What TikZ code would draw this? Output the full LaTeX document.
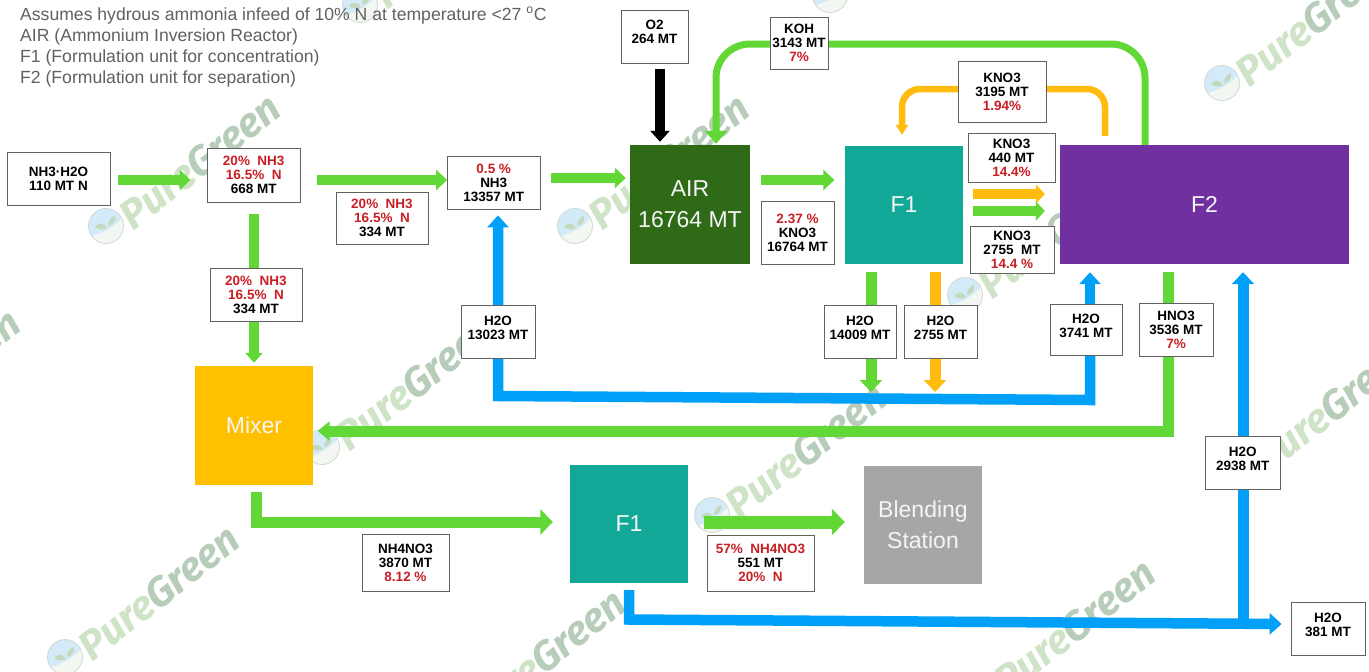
\documentclass[tikz,border=0pt]{standalone}
\usepackage{fontspec}
\setmainfont{Liberation Sans}
\newfontfamily\wmfont{Fira Sans}
\usetikzlibrary{arrows.meta,calc}
\pgfdeclarelayer{wmark}
\pgfdeclarelayer{conn}
\pgfsetlayers{wmark,conn,main}
\definecolor{cgreen}{HTML}{62D836}
\definecolor{cblue}{HTML}{00A0F8}
\definecolor{cyellow}{HTML}{FFBC0D}
\definecolor{cred}{HTML}{C81E24}
\definecolor{cair}{HTML}{2F6B17}
\definecolor{cteal}{HTML}{12A898}
\definecolor{cpurple}{HTML}{7030A0}
\definecolor{cmixer}{HTML}{FFC000}
\definecolor{cblend}{HTML}{A6A6A6}
\definecolor{wmpure}{HTML}{CFE3C6}
\definecolor{wmgreen}{HTML}{B7CDB9}
\definecolor{wmsky}{HTML}{D3EAF8}
\definecolor{wmleaf}{HTML}{C4D8BC}
\definecolor{wmring}{HTML}{D2DAD2}
\newcommand{\rd}[1]{\textcolor{cred}{#1}}
\newcommand{\lsp}[1]{\fontsize{13.5}{#1}\selectfont}
\newcommand{\tailpad}[1]{\\[#1]\mbox{}}
% label box: name, x1, y1, x2, y2, text
\newcommand{\lbox}[6]{%
  \pgfmathsetmacro{\bw}{#4-#2}\pgfmathsetmacro{\bh}{#5-#3}%
  \node[labelbox,minimum width=\bw pt,minimum height=\bh pt] (#1) at ({(#2+#4)/2},{(#3+#5)/2}) {#6};}
% process block: name, x1, y1, x2, y2, colour, text
\newcommand{\pblock}[7]{%
  \pgfmathsetmacro{\bw}{#4-#2}\pgfmathsetmacro{\bh}{#5-#3}%
  \node[procblock,fill=#6,minimum width=\bw pt,minimum height=\bh pt] (#1) at ({(#2+#4)/2},{(#3+#5)/2}) {#7};}
% watermark at logo centre
\newcommand{\wmark}[2]{%
  \begin{scope}[shift={(#1,#2)}]
    \fill[wmsky] (0,0) circle[radius=17.5];
    \begin{scope}
      \clip (0,0) circle[radius=17.5];
      \fill[white!80!wmleaf] (-20,12) .. controls (-4,8) and (8,2) .. (20,-12) -- (20,20) -- (-20,20) -- cycle;
    \end{scope}
    \draw[wmring,line width=.8] (0,0) circle[radius=17.5];
    \fill[wmleaf] (-11,1) .. controls (-7,-4) and (-2,-3) .. (1,2) .. controls (-3,4) and (-8,4) .. (-11,1) -- cycle;
    \fill[wmleaf] (2,0) .. controls (2,-6) and (6,-9) .. (9,-10) .. controls (10,-5) and (7,-1) .. (2,0) -- cycle;
    \node[anchor=west,rotate=38,inner sep=0,font=\wmfont\bfseries\itshape\fontsize{41}{41}\selectfont] (w#1x#2) at (19,-6)
      {\textcolor{wmpure}{Pure}\textcolor{wmgreen}{Green}};
  \end{scope}}
\tikzset{
  x=1pt,y=-1pt,
  labelbox/.style={draw=black!62,line width=.8pt,fill=white,inner sep=0pt,align=center,text=black,
     font=\bfseries\fontsize{13.5}{14}\selectfont},
  procblock/.style={draw=none,inner sep=0pt,align=center,text=white!92!gray,font=\fontsize{23}{31}\selectfont},
  flow/.style={line cap=butt,line join=miter},
  gflow/.style={flow,draw=cgreen,line width=10pt,-{Triangle[length=11pt,width=20pt]}},
  bflow/.style={flow,draw=cblue,line width=10.5pt,-{Triangle[length=12pt,width=21pt]}},
  yflow/.style={flow,draw=cyellow,line width=10.5pt,-{Triangle[length=11pt,width=21pt]}},
}
\begin{document}
\begin{tikzpicture}
\useasboundingbox (0,0) rectangle (1369,672);

\begin{pgfonlayer}{wmark}
\fill[white] (0,0) rectangle (1369,672);
\clip (0,0) rectangle (1369,672);
\wmark{106}{226}\wmark{360}{5}\wmark{575}{226}\wmark{830}{-5}\wmark{1222}{83}
\wmark{-154}{441}\wmark{322}{447}\wmark{965}{295}\wmark{712}{515}\wmark{1240}{470}
\wmark{65}{657}\wmark{451}{721}\wmark{981}{691}
\end{pgfonlayer}

% header notes
\node[anchor=north west,inner sep=0,align=left,text=black!62,font=\fontsize{17.6}{21.2}\selectfont] (notes) at (20,7)
 {Assumes hydrous ammonia infeed of 10\% N at temperature <27 \textsuperscript{o}C\\
  AIR (Ammonium Inversion Reactor)\\
  F1 (Formulation unit for concentration)\\
  F2 (Formulation unit for separation)};

% process blocks
\pblock{air}{630}{145}{750}{264}{cair}{AIR\\16764 MT}
\pblock{fone}{845}{146}{963}{264}{cteal}{F1}
\pblock{ftwo}{1060}{145}{1349}{264}{cpurple}{F2}
\pblock{mixer}{195}{366}{313}{485}{cmixer}{Mixer}
\pblock{fonelow}{570}{465}{688}{583}{cteal}{F1}
\pblock{blend}{864}{466}{982}{584}{cblend}{Blending\\Station}

% labels
\lbox{feed}{7}{152}{110}{205}{\lsp{14}NH3·H2O\\110 MT N}
\lbox{mixa}{207.5}{148}{300}{202}{\lsp{13.2}\rd{20\%\ \ NH3}\\\rd{16.5\%\ \ N}\\668 MT}
\lbox{splitr}{336}{192}{428}{244}{\lsp{13.2}\rd{20\%\ \ NH3}\\\rd{16.5\%\ \ N}\\334 MT}
\lbox{splitd}{210}{268}{302}{321}{\lsp{13.2}\rd{20\%\ \ NH3}\\\rd{16.5\%\ \ N}\\334 MT}
\lbox{nhthree}{447.5}{156}{540}{209}{\lsp{13.2}\rd{0.5 \%}\\NH3\\13357 MT}
\lbox{waterl}{461}{305}{535}{358}{\lsp{16}H2O\\13023 MT\tailpad{-6pt}}
\lbox{otwo}{621}{10}{688}{63}{\lsp{16}O2\\264 MT\tailpad{-4pt}}
\lbox{koh}{770}{17}{828}{69}{\lsp{14.5}KOH\\3143 MT\\\rd{7\%}}
\lbox{kreac}{761}{201}{834}{264}{\lsp{16.5}\rd{2.37 \%}\\KNO3\\16764 MT}
\lbox{krec}{958}{61}{1046}{122}{\lsp{16.5}KNO3\\3195 MT\\\rd{1.94\%}}
\lbox{ktop}{968}{133}{1055}{182}{\lsp{13.8}KNO3\\440 MT\\\rd{14.4\%}}
\lbox{kbot}{970}{226}{1054}{273}{\lsp{12}KNO3\\2755\ \ MT\\\rd{14.4 \%}}
\lbox{wa}{824}{305}{896}{358}{\lsp{16}H2O\\14009 MT\tailpad{-6pt}}
\lbox{wb}{904}{305}{977}{358}{\lsp{16}H2O\\2755 MT\tailpad{-6pt}}
\lbox{wc}{1050}{304}{1122}{355}{\lsp{16}H2O\\3741 MT\tailpad{-6pt}}
\lbox{hno}{1139}{303}{1213}{356}{\lsp{14.5}HNO3\\3536 MT\\\rd{7\%}}
\lbox{amm}{362}{534}{449}{591}{\lsp{14.5}NH4NO3\\3870 MT\\\rd{8.12 \%}}
\lbox{prod}{707}{535}{814}{591}{\lsp{14.5}\rd{57\%\ \ NH4NO3}\\551 MT\\\rd{20\%\ \ N}}
\lbox{wd}{1205.5}{436}{1280}{489}{\lsp{16}H2O\\2938 MT\tailpad{-6pt}}
\lbox{we}{1291}{602}{1365}{655}{\lsp{16}H2O\\381 MT\tailpad{-6pt}}

% connectors
\begin{pgfonlayer}{conn}
\draw[gflow] ([xshift=8pt]feed.east|-0,180) -- ([xshift=-16.5pt]mixa.west|-0,180);
\draw[gflow] ([xshift=17pt]mixa.east|-0,180) -- (nhthree.west|-0,180);
\draw[gflow] ([xshift=11pt]nhthree.east|-0,178) -- ([xshift=-4pt]air.west|-0,178);
\draw[gflow,-{Triangle[length=10pt,width=17pt]}] (254,214) -- ([yshift=3pt]mixer.north-|254,0);
\draw[draw=black,flow,line width=10pt,-{Triangle[length=11pt,width=19pt]}] (otwo.south-|660,0) ++(0,6) -- ([yshift=3pt]air.north-|660,0);
\draw[flow,draw=cgreen,line width=7pt,-{Triangle[length=13pt,width=22pt]},rounded corners=34pt]
   (ftwo.north-|1145,0) -- (1145,44) -- (716,44) -- ([yshift=1pt]air.north-|716,0);
\draw[flow,draw=cyellow,line width=6.5pt,-{Triangle[length=10pt,width=12pt]},rounded corners=18pt]
   ([yshift=9pt]ftwo.north-|1105,0) -- (1105,89) -- (902,89) -- ([yshift=11pt]fone.north-|902,0);
\draw[gflow] ([xshift=11pt]air.east|-0,180) -- (kreac.east|-0,180);
\draw[yflow,line width=10pt,-{Triangle[length=9pt,width=19pt]}] (973,194) -- ([xshift=-15pt]ftwo.west|-0,194);
\draw[gflow,-{Triangle[length=9pt,width=19pt]}] (973,211) -- ([xshift=-15pt]ftwo.west|-0,211);
\draw[gflow,line width=11pt,-{Triangle[length=12pt,width=22pt]}] (fone.south-|871,0) ++(0,8) -- (871,392);
\draw[yflow,line width=11pt,-{Triangle[length=12pt,width=22pt]}] (fone.south-|935,0) ++(0,8) -- (935,392);
\draw[bflow] (wc.south-|1090,0) -- (1090,400) -- (498,396) -- ([yshift=-6pt]nhthree.south-|498,0);
\draw[bflow] (wc.north-|1090,0) -- ([yshift=-8pt]ftwo.south-|1090,0);
\draw[flow,draw=cgreen,line width=11pt,-{Triangle[length=12pt,width=19pt]}]
   ([yshift=-8pt]ftwo.south-|1168,0) -- (1168,431) -- ([xshift=4.5pt]mixer.east|-0,431);
\draw[flow,draw=cgreen,line width=11pt,-{Triangle[length=12.5pt,width=25pt]}]
   ([yshift=-7pt]mixer.south-|256.5,0) -- (256.5,522) -- ([xshift=-17pt]fonelow.west|-0,522);
\draw[flow,draw=cgreen,line width=13pt,-{Triangle[length=13pt,width=26pt]}]
   ([xshift=16pt]fonelow.east|-0,522) -- ([xshift=-19pt]blend.west|-0,522);
\draw[bflow] ([yshift=-7pt]fonelow.south-|629,0) -- (629,619.5) -- ([xshift=-9pt]we.west|-0,624);
\draw[bflow,line width=11pt,-{Triangle[length=12pt,width=22pt]}] (1243,623) -- ([yshift=-8pt]ftwo.south-|1243,0);
\end{pgfonlayer}
\end{tikzpicture}
\end{document}
